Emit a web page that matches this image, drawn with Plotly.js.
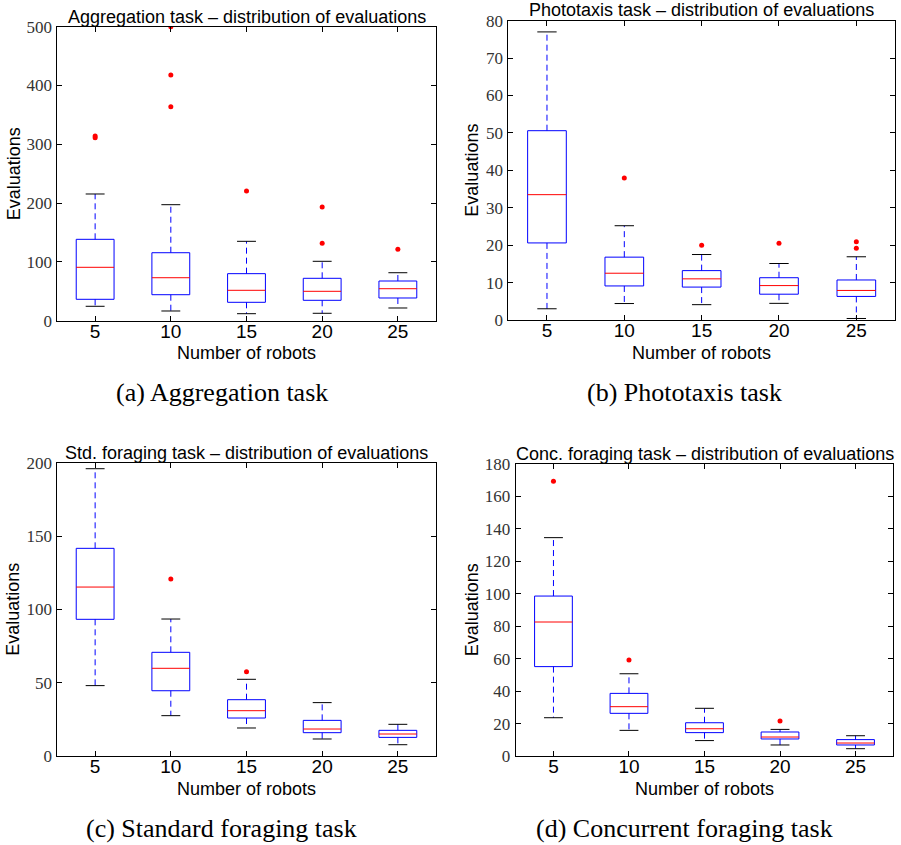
<!DOCTYPE html>
<html>
<head>
<meta charset="utf-8">
<script src="https://cdn.plot.ly/plotly-3.0.1.min.js"></script>
<style>html,body{margin:0;padding:0;background:#fff;}#chart{width:901px;height:845px;}</style>
</head>
<body>
<div id="chart"></div>
<script>
// ---------- data ----------
const robots = ['5', '10', '15', '20', '25'];

// (a) Aggregation task
const aggLow  = [24.5, 16.5, 11.9, 12.6, 21.6];
const aggQ1   = [36.4, 44.2, 31.3, 34.7, 38.6];
const aggMed  = [90.8, 73.1, 51.7, 50.0, 54.4];
const aggQ3   = [138.4, 115.6, 80.0, 72.1, 67.5];
const aggHigh = [215.5, 197.3, 135.0, 101.0, 81.6];
const aggOut  = [[311, 314], [364, 418, 500], [220.6], [131.6, 193.4], [121.4]];

// (b) Phototaxis task
const phoLow  = [3.0, 4.4, 4.1, 4.45, 0.4];
const phoQ1   = [20.6, 9.1, 8.8, 6.9, 6.3];
const phoMed  = [33.5, 12.5, 11.0, 9.2, 7.9];
const phoQ3   = [50.6, 16.8, 13.2, 11.3, 10.7];
const phoHigh = [77.0, 25.2, 17.5, 15.1, 16.9];
const phoOut  = [[], [37.95], [20.0], [20.5], [19.15, 20.9]];

// (c) Standard foraging task
const stdLow  = [48.0, 27.5, 19.1, 11.6, 7.7];
const stdQ1   = [93.2, 44.5, 25.9, 15.9, 12.7];
const stdMed  = [115.2, 59.8, 30.9, 18.4, 15.0];
const stdQ3   = [141.6, 70.7, 38.4, 24.3, 17.5];
const stdHigh = [195.9, 93.4, 52.3, 36.4, 21.6];
const stdOut  = [[], [120.7], [57.5], [], []];

// (d) Concurrent foraging task
const conLow  = [23.6, 15.8, 9.5, 6.8, 4.5];
const conQ1   = [55.1, 26.3, 14.4, 10.5, 6.8];
const conMed  = [82.6, 30.4, 16.8, 11.7, 8.0];
const conQ3   = [98.6, 38.6, 20.5, 14.8, 10.1];
const conHigh = [134.6, 50.7, 29.4, 16.4, 12.5];
const conOut  = [[169.3], [59.2], [], [21.6], []];

const panelTitles = [
  'Aggregation task \u2013 distribution of evaluations',
  'Phototaxis task \u2013 distribution of evaluations',
  'Std. foraging task \u2013 distribution of evaluations',
  'Conc. foraging task \u2013 distribution of evaluations'
];
const captions = ['(a) Aggregation task', '(b) Phototaxis task',
                  '(c) Standard foraging task', '(d) Concurrent foraging task'];
const yRanges = [[0, 500], [0, 80], [0, 200], [0, 180]];
const yDticks = [100, 10, 50, 20];
const xLabel = 'Number of robots';
const yLabel = 'Evaluations';

// ---------- styling ----------
const W = 901, H = 845;
const BOX_W = 0.5, CAP_W = 0.25;
const BLUE = '#0000ff', RED = '#ff0000', BLACK = '#000000';
const SANS = 'Liberation Sans, Arial, sans-serif';
const SERIF = 'Liberation Serif, Times New Roman, serif';

// panel frames in pixels: [left, top, right, bottom]
const frames = [
  [57.3, 26.7, 435.7, 320.7],
  [508.3, 20.7, 895.0, 320.0],
  [57.3, 462.7, 435.7, 756.0],
  [515.7, 464.0, 893.3, 756.0]
];
const titleY = [16.7, 10.0, 452.7, 454.0];
const xTitleY = [353.0, 352.5, 788.5, 788.5];
const yTitleX = [13.5, 472.3, 13.5, 472.3];
const captionPos = [[221.5, 392], [684.5, 392], [221.5, 828], [684.5, 828]];

const px = x => x / W;
const py = y => 1 - y / H;

function buildPanel(idx, low, q1, med, q3, high, outs) {
  const xa = idx === 0 ? 'x' : 'x' + (idx + 1);
  const ya = idx === 0 ? 'y' : 'y' + (idx + 1);
  const boxX = [], boxY = [], medX = [], medY = [], whX = [], whY = [],
        capX = [], capY = [], outX = [], outY = [];
  for (let i = 0; i < robots.length; i++) {
    const p = i + 1, h = BOX_W / 2, c = CAP_W / 2;
    boxX.push(p - h, p + h, p + h, p - h, p - h, null);
    boxY.push(q1[i], q1[i], q3[i], q3[i], q1[i], null);
    medX.push(p - h, p + h, null);
    medY.push(med[i], med[i], null);
    whX.push(p, p, null, p, p, null);
    whY.push(q3[i], high[i], null, q1[i], low[i], null);
    capX.push(p - c, p + c, null, p - c, p + c, null);
    capY.push(high[i], high[i], null, low[i], low[i], null);
    outs[i].forEach(v => { outX.push(p); outY.push(v); });
  }
  const common = {xaxis: xa, yaxis: ya, hoverinfo: 'skip', showlegend: false};
  return [
    Object.assign({type: 'scatter', mode: 'lines', x: whX, y: whY,
      line: {color: BLUE, width: 1, dash: '6px,4px'}}, common),
    Object.assign({type: 'scatter', mode: 'lines', x: capX, y: capY,
      line: {color: BLACK, width: 1}}, common),
    Object.assign({type: 'scatter', mode: 'lines', x: boxX, y: boxY,
      line: {color: BLUE, width: 1}}, common),
    Object.assign({type: 'scatter', mode: 'lines', x: medX, y: medY,
      line: {color: RED, width: 1}}, common),
    Object.assign({type: 'scatter', mode: 'markers', x: outX, y: outY,
      marker: {color: RED, size: 5, line: {width: 0}}, cliponaxis: true}, common)
  ];
}

const data = [].concat(
  buildPanel(0, aggLow, aggQ1, aggMed, aggQ3, aggHigh, aggOut),
  buildPanel(1, phoLow, phoQ1, phoMed, phoQ3, phoHigh, phoOut),
  buildPanel(2, stdLow, stdQ1, stdMed, stdQ3, stdHigh, stdOut),
  buildPanel(3, conLow, conQ1, conMed, conQ3, conHigh, conOut)
);

const layout = {
  width: W, height: H,
  margin: {l: 0, r: 0, t: 0, b: 0},
  paper_bgcolor: '#ffffff', plot_bgcolor: '#ffffff',
  showlegend: false,
  annotations: []
};

for (let k = 0; k < 4; k++) {
  const f = frames[k];
  const xk = k === 0 ? 'xaxis' : 'xaxis' + (k + 1);
  const yk = k === 0 ? 'yaxis' : 'yaxis' + (k + 1);
  const yName = k === 0 ? 'y' : 'y' + (k + 1);
  const xName = k === 0 ? 'x' : 'x' + (k + 1);
  const axisBase = {
    showgrid: false, zeroline: false, showline: true, linecolor: BLACK, linewidth: 1,
    mirror: 'ticks', ticks: 'inside', ticklen: 5, tickwidth: 1, tickcolor: BLACK,
    fixedrange: true
  };
  layout[xk] = Object.assign({}, axisBase, {
    domain: [px(f[0]), px(f[2])], anchor: yName,
    range: [0.5, robots.length + 0.5],
    tickmode: 'array', tickvals: robots.map((_, i) => i + 1), ticktext: robots,
    tickfont: {family: SANS, size: 19, color: BLACK},
    ticklabelstandoff: -7
  });
  layout[yk] = Object.assign({}, axisBase, {
    domain: [py(f[3]), py(f[1])], anchor: xName,
    range: yRanges[k], tickmode: 'linear', tick0: 0, dtick: yDticks[k],
    tickfont: {family: SERIF, size: 17, color: '#333333'},
    ticklabelstandoff: 1
  });
  // panel title
  layout.annotations.push({
    xref: 'paper', yref: 'paper', x: px((f[0] + f[2]) / 2), y: py(titleY[k]),
    xanchor: 'center', yanchor: 'middle', showarrow: false,
    text: panelTitles[k], font: {family: SANS, size: 18, color: BLACK}
  });
  // x axis title
  layout.annotations.push({
    xref: 'paper', yref: 'paper', x: px((f[0] + f[2]) / 2), y: py(xTitleY[k]),
    xanchor: 'center', yanchor: 'middle', showarrow: false,
    text: xLabel, font: {family: SANS, size: 18, color: BLACK}
  });
  // y axis title
  layout.annotations.push({
    xref: 'paper', yref: 'paper', x: px(yTitleX[k]), y: py((f[1] + f[3]) / 2),
    xanchor: 'center', yanchor: 'middle', showarrow: false, textangle: -90,
    text: yLabel, font: {family: SANS, size: 18, color: BLACK}
  });
  // caption
  layout.annotations.push({
    xref: 'paper', yref: 'paper', x: px(captionPos[k][0]), y: py(captionPos[k][1]),
    xanchor: 'center', yanchor: 'middle', showarrow: false,
    text: captions[k], font: {family: SERIF, size: 26, color: BLACK}
  });
}

Plotly.newPlot('chart', data, layout, {staticPlot: true, displayModeBar: false});
</script>
</body>
</html>
